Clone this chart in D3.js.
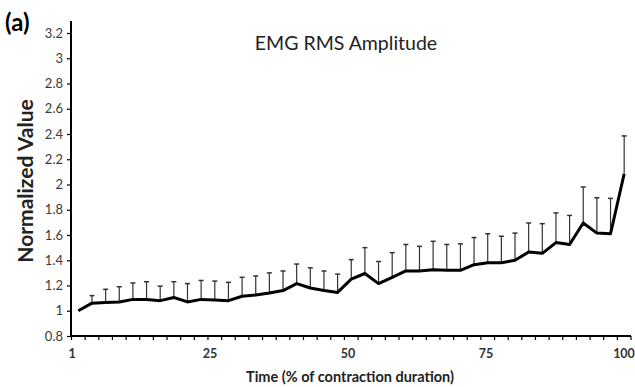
<!DOCTYPE html>
<html>
<head>
<meta charset="utf-8">
<script src="https://cdn.jsdelivr.net/npm/d3@7"></script>
<style>
  body { margin: 0; background: #fff; }
  svg text { font-family: Lato, "Open Sans", sans-serif; }
</style>
</head>
<body>
<div id="vis"></div>
<script>
// time points (% of contraction duration), one per category
const timePct = [0, 2.5, 5, 7.5, 10, 12.5, 15, 17.5, 20, 22.5, 25, 27.5, 30, 32.5, 35, 37.5, 40,
  42.5, 45, 47.5, 50, 52.5, 55, 57.5, 60, 62.5, 65, 67.5, 70, 72.5, 75, 77.5, 80, 82.5, 85,
  87.5, 90, 92.5, 95, 97.5, 100]

// mean normalized EMG RMS amplitude
const meanValues = [1.00, 1.06, 1.065, 1.07, 1.09, 1.09, 1.08, 1.105, 1.07, 1.09, 1.085,
  1.08, 1.115, 1.125, 1.14, 1.16, 1.215, 1.18, 1.16, 1.145, 1.25, 1.295, 1.215, 1.265,
  1.315, 1.315, 1.325, 1.32, 1.32, 1.365, 1.38, 1.38, 1.40, 1.465, 1.455, 1.54, 1.525,
  1.695, 1.615, 1.61, 2.085]

// upper error bar (SD)
const sdValues = [0, 0.06, 0.105, 0.12, 0.13, 0.14, 0.115, 0.125, 0.145, 0.15, 0.15,
  0.145, 0.15, 0.15, 0.16, 0.155, 0.155, 0.16, 0.155, 0.145, 0.155, 0.205, 0.175, 0.195,
  0.21, 0.195, 0.225, 0.205, 0.21, 0.215, 0.23, 0.21, 0.215, 0.23, 0.235, 0.235, 0.23,
  0.285, 0.28, 0.28, 0.30]

const yTicks = [0.8, 1, 1.2, 1.4, 1.6, 1.8, 2, 2.2, 2.4, 2.6, 2.8, 3, 3.2]
const xTickValues = [0, 25, 50, 75, 100]
const xTickLabels = ['1', '25', '50', '75', '100']

const data = timePct.map((t, i) => ({t, mean: meanValues[i], sd: sdValues[i]}))

const W = 635, H = 387
const plotLeft = 71, plotRight = 631, plotTop = 33, plotBottom = 336

const svg = d3.select('#vis')
    .append('svg')
    .attr('width', W)
    .attr('height', H)

const xBand = d3.scaleBand()
    .domain(timePct)
    .range([plotLeft + 0.5, plotRight])
    .paddingInner(0)
    .paddingOuter(0)
const xLab = d3.scaleLinear()
    .domain([0, 100])
    .range([plotLeft + 1, plotRight - 7])
const yScale = d3.scaleLinear()
    .domain([0.8, 3.2])
    .range([plotBottom, plotTop])

const cx = d => xBand(d.t) + xBand.bandwidth() / 2

// y axis
const yAxis = svg.append('g')
    .attr('transform', `translate(${plotLeft},0)`)
    .call(d3.axisLeft(yScale).tickValues(yTicks).tickSize(4).tickSizeOuter(0)
        .tickFormat(d => String(+d.toFixed(1))))
yAxis.select('.domain').remove()
yAxis.selectAll('.tick line').attr('stroke', '#000').attr('stroke-width', 1.2)
yAxis.selectAll('.tick text')
    .attr('x', -8)
    .style('font-size', '13px')
    .attr('fill', '#3a3a3a')
svg.append('line')
    .attr('x1', plotLeft).attr('x2', plotLeft)
    .attr('y1', plotBottom + 1).attr('y2', plotTop - 12)
    .attr('stroke', '#000').attr('stroke-width', 2)

// x axis: line, minor ticks on category boundaries, labels
svg.append('line')
    .attr('x1', plotLeft - 1).attr('x2', plotRight)
    .attr('y1', plotBottom).attr('y2', plotBottom)
    .attr('stroke', '#000').attr('stroke-width', 2)
const bounds = timePct.map(t => xBand(t)).concat([xBand.range()[1]])
svg.selectAll('.xtick')
    .data(bounds)
    .join('line')
    .attr('class', 'xtick')
    .attr('x1', d => d).attr('x2', d => d)
    .attr('y1', plotBottom).attr('y2', plotBottom + 4)
    .attr('stroke', '#000').attr('stroke-width', 1.2)
svg.selectAll('.xlabel')
    .data(xTickValues)
    .join('text')
    .attr('class', 'xlabel')
    .attr('x', d => xLab(d))
    .attr('y', 358)
    .attr('text-anchor', 'middle')
    .style('font-size', '12.5px')
    .style('font-weight', 'bold')
    .attr('fill', '#333')
    .text((d, i) => xTickLabels[i])

// error bars (upper only)
const bars = svg.append('g')
bars.selectAll('.err')
    .data(data.filter(d => d.sd > 0))
    .join('line')
    .attr('class', 'err')
    .attr('x1', cx).attr('x2', cx)
    .attr('y1', d => yScale(d.mean))
    .attr('y2', d => yScale(d.mean + d.sd))
    .attr('stroke', '#333').attr('stroke-width', 1.2)
bars.selectAll('.cap')
    .data(data.filter(d => d.sd > 0))
    .join('line')
    .attr('class', 'cap')
    .attr('x1', d => cx(d) - 2.5).attr('x2', d => cx(d) + 2.5)
    .attr('y1', d => yScale(d.mean + d.sd))
    .attr('y2', d => yScale(d.mean + d.sd))
    .attr('stroke', '#333').attr('stroke-width', 1.5)

// mean line
svg.append('path')
    .datum(data)
    .attr('fill', 'none')
    .attr('stroke', '#000')
    .attr('stroke-width', 3)
    .attr('stroke-linejoin', 'round')
    .attr('d', d3.line().x(cx).y(d => yScale(d.mean)))

// titles
svg.append('text')
    .attr('x', 346).attr('y', 50)
    .attr('text-anchor', 'middle')
    .style('font-size', '19.5px')
    .attr('fill', '#222')
    .text('EMG RMS Amplitude')
svg.append('text')
    .attr('x', 5).attr('y', 31)
    .style('font-size', '24px')
    .style('font-weight', 'bold')
    .text('(a)')
svg.append('text')
    .attr('transform', 'rotate(-90)')
    .attr('x', -181).attr('y', 33)
    .attr('text-anchor', 'middle')
    .style('font-size', '21px')
    .style('font-weight', 'bold')
    .attr('fill', '#222')
    .text('Normalized Value')
svg.append('text')
    .attr('x', 350).attr('y', 382)
    .attr('text-anchor', 'middle')
    .style('font-size', '14.5px')
    .style('font-weight', 'bold')
    .attr('fill', '#222')
    .text('Time (% of contraction duration)')
</script>
</body>
</html>
